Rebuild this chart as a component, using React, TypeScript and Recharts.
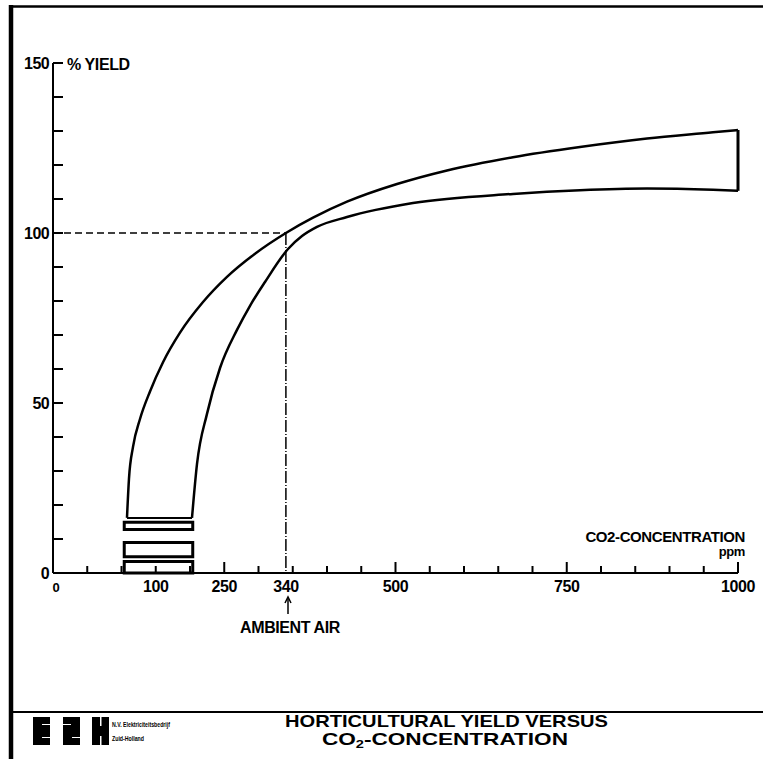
import { LineChart, Line, XAxis, YAxis, ReferenceLine, ReferenceArea } from 'recharts';

// CO2 concentration (ppm) and % yield
const upperPpm = [108, 110.9, 116.8, 127, 141.6, 160.6, 185.4, 219, 254, 294.9, 340, 379.6, 429.2, 502.2, 575.2, 671.5, 769.3, 867.2, 963.5, 1000];
const upperYield = [16.2, 27.7, 37.1, 45.3, 53.4, 62.0, 70.7, 79.7, 87.1, 93.9, 100.0, 104.5, 109.2, 114.4, 118.4, 122.3, 125.3, 127.8, 129.6, 130.3];
const lowerPpm = [202.9, 210.2, 224.8, 243.8, 268.6, 287.6, 309.5, 343.1, 363.5, 385.4, 429.2, 525.5, 671.5, 769.3, 867.2, 963.5, 1000];
const lowerYield = [16.2, 32.0, 46.8, 60.3, 71.5, 78.6, 85.6, 95.3, 99.1, 101.8, 104.7, 108.8, 111.5, 112.6, 113.1, 112.7, 112.4];

// the three stacked boxes under the band
const boxPpm = [104, 204];
const boxLow = [0, 4.8, 12.8];
const boxHigh = [3.4, 9.0, 14.9];

const ambientPpm = 340;
const ambientYield = 100;

const xTicks = [0, 50, 100, 150, 200, 250, 300, 340, 350, 400, 450, 500, 550, 600, 650, 700, 750, 800, 850, 900, 950, 1000];
const xMajor = [250, 500, 750, 1000];
const xLabelAt = [0, 150, 250, 340, 500, 750, 1000];
const xLabelText = ['0', '100', '250', '340', '500', '750', '1000'];

const yTicks = [0, 10, 20, 30, 40, 50, 60, 70, 80, 90, 100, 110, 120, 130, 140, 150];
const yLabelAt = [0, 50, 100, 150];

const upperData = upperPpm.map((x, i) => ({ x, y: upperYield[i] }));
const lowerData = lowerPpm.map((x, i) => ({ x, y: lowerYield[i] }));

const font = '"Liberation Sans", Arial, sans-serif';

function XTick(props: any) {
  const { x, y, payload } = props;
  const v = payload.value;
  const i = xLabelAt.indexOf(v);
  const len = v === ambientPpm ? 0 : xMajor.includes(v) ? 11 : 7;
  return (
    <g>
      {len > 0 && <line x1={x} x2={x} y1={y} y2={y - len} stroke="#000" strokeWidth={2} />}
      {i >= 0 && (
        <text
          x={v === 0 ? x + 3 : x}
          y={y + 19}
          textAnchor="middle"
          fontFamily={font}
          fontWeight={700}
          fontSize={v === 0 ? 13 : 16}
          letterSpacing={-0.4}
          fill="#000"
        >
          {xLabelText[i]}
        </text>
      )}
    </g>
  );
}

function YTick(props: any) {
  const { x, y, payload } = props;
  const v = payload.value;
  return (
    <g>
      <line x1={x} x2={x + 10} y1={y} y2={y} stroke="#000" strokeWidth={2} />
      {yLabelAt.includes(v) && (
        <text
          x={x - 4}
          y={y + 6}
          textAnchor="end"
          fontFamily={font}
          fontWeight={700}
          fontSize={16}
          letterSpacing={-0.6}
          fill="#000"
        >
          {v}
        </text>
      )}
    </g>
  );
}

export default function App() {
  return (
    <div style={{ position: 'absolute', left: 0, top: 0, width: 763, height: 759, background: '#fff' }}>
      <LineChart width={763} height={759} margin={{ top: 63, right: 25, bottom: 156, left: 13 }}>
        <XAxis
          dataKey="x"
          type="number"
          domain={[0, 1000]}
          ticks={xTicks}
          interval={0}
          tickSize={0}
          tickMargin={0}
          tickLine={false}
          tick={<XTick />}
          axisLine={{ stroke: '#000', strokeWidth: 2 }}
          height={30}
          allowDataOverflow
        />
        <YAxis
          dataKey="y"
          type="number"
          domain={[0, 150]}
          ticks={yTicks}
          interval={0}
          tickSize={0}
          tickMargin={0}
          tickLine={false}
          tick={<YTick />}
          axisLine={{ stroke: '#000', strokeWidth: 2 }}
          width={40}
          allowDataOverflow
        />
        {boxLow.map((lo, i) => (
          <ReferenceArea
            key={i}
            x1={boxPpm[0]}
            x2={boxPpm[1]}
            y1={lo}
            y2={boxHigh[i]}
            fill="#fff"
            fillOpacity={1}
            stroke="#000"
            strokeWidth={3}
          />
        ))}
        <ReferenceLine
          segment={[{ x: 0, y: ambientYield }, { x: ambientPpm, y: ambientYield }]}
          stroke="#000"
          strokeWidth={1.5}
          strokeDasharray="7 4"
        />
        <ReferenceLine
          segment={[{ x: ambientPpm, y: ambientYield }, { x: ambientPpm, y: 0 }]}
          stroke="#000"
          strokeWidth={1.5}
          strokeDasharray="12 2 1 2"
        />
        <ReferenceLine
          segment={[{ x: upperPpm[0], y: upperYield[0] }, { x: lowerPpm[0], y: lowerYield[0] }]}
          stroke="#000"
          strokeWidth={2}
        />
        <ReferenceLine
          segment={[
            { x: upperPpm[upperPpm.length - 1], y: upperYield[upperYield.length - 1] },
            { x: lowerPpm[lowerPpm.length - 1], y: lowerYield[lowerYield.length - 1] },
          ]}
          stroke="#000"
          strokeWidth={3}
        />
        <Line data={upperData} dataKey="y" type="monotone" stroke="#000" strokeWidth={2.5} dot={false} isAnimationActive={false} />
        <Line data={lowerData} dataKey="y" type="monotone" stroke="#000" strokeWidth={2.5} dot={false} isAnimationActive={false} />
      </LineChart>

      <svg
        width={763}
        height={759}
        style={{ position: 'absolute', left: 0, top: 0, pointerEvents: 'none' }}
        fontFamily={font}
        fontWeight={700}
      >
        {/* frame */}
        <line x1={9} x2={763} y1={6.5} y2={6.5} stroke="#000" strokeWidth={2.5} />
        <line x1={11} x2={11} y1={5} y2={759} stroke="#000" strokeWidth={4.5} />
        <line x1={9} x2={763} y1={712} y2={712} stroke="#000" strokeWidth={2} />

        <text x={67} y={70} fontSize={16} letterSpacing={-0.4}>% YIELD</text>

        <text x={745} y={542} fontSize={15} letterSpacing={-0.4} textAnchor="end">CO2-CONCENTRATION</text>
        <text x={745} y={556} fontSize={13} letterSpacing={-0.4} textAnchor="end">ppm</text>

        {/* ambient air marker */}
        <line x1={288} x2={288} y1={599} y2={614} stroke="#000" strokeWidth={1.5} />
        <path d="M285,603 L288,597 L291,603" fill="none" stroke="#000" strokeWidth={1.5} />
        <text x={290} y={633} fontSize={16} letterSpacing={-0.4} textAnchor="middle">AMBIENT AIR</text>

        {/* footer logo */}
        <rect x={33} y={717} width={17} height={28} fill="#000" />
        <rect x={63} y={717} width={17} height={28} fill="#000" />
        <rect x={92} y={717} width={17} height={28} fill="#000" />
        <rect x={42} y={724} width={8} height={1} fill="#fff" />
        <rect x={42} y={737} width={8} height={1} fill="#fff" />
        <rect x={63} y={724} width={8} height={1} fill="#fff" />
        <rect x={72} y={737} width={8} height={1} fill="#fff" />
        <rect x={100} y={717} width={1.5} height={9} fill="#fff" />
        <rect x={100} y={736} width={1.5} height={9} fill="#fff" />
        <text x={112} y={727} fontSize={7} textLength={58} lengthAdjust="spacingAndGlyphs">N.V. Elektriciteitsbedrijf</text>
        <text x={112} y={741} fontSize={7} textLength={32} lengthAdjust="spacingAndGlyphs">Zuid-Holland</text>

        <text x={285} y={727} fontSize={17} textLength={323} lengthAdjust="spacingAndGlyphs">
          HORTICULTURAL YIELD VERSUS
        </text>
        <text x={322} y={745} fontSize={17} textLength={246} lengthAdjust="spacingAndGlyphs">
          CO<tspan fontSize={11} dy={3}>2</tspan><tspan dy={-3}>-CONCENTRATION</tspan>
        </text>
      </svg>
    </div>
  );
}
